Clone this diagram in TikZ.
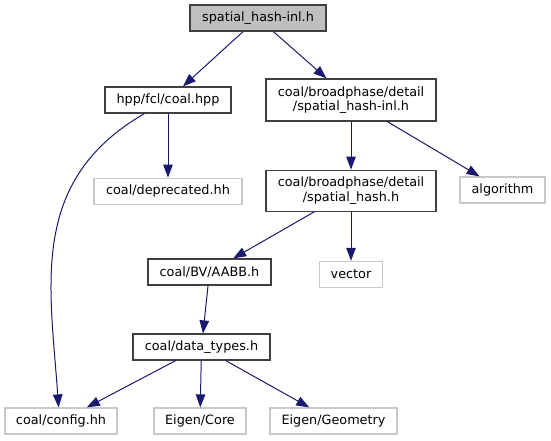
\documentclass[tikz,border=0pt]{standalone}
\usepackage{fontspec}
\setmainfont{DejaVu Sans}
\usetikzlibrary{positioning,arrows.meta}
\definecolor{IncEdge}{RGB}{25,25,112}
\definecolor{IncFrame}{RGB}{64,64,64}
\definecolor{IncRoot}{RGB}{191,191,191}
\definecolor{IncFaint}{RGB}{200,200,200}
\tikzset{
  inc box/.style={
    draw=IncFrame,
    line width=1.2pt,
    align=center,
    font=\fontsize{12.8}{14.5}\selectfont,
    inner sep=2pt,
    minimum height=26pt,
    text=black
  },
  inc root/.style={inc box, fill=IncRoot},
  inc file/.style={inc box, fill=white},
  inc tall/.style={inc file, minimum height=41pt},
  inc sys/.style={inc box, draw=IncFaint, fill=white},
  inc arrow/.style={-{Triangle[length=13pt,width=9.5pt]}, line width=1pt, IncEdge}
}

\begin{document}
\begin{tikzpicture}[x=1pt,y=-1pt]
\useasboundingbox (0,0) rectangle (551,440);
\node[inc root, minimum width=136pt] (root) at (258,18) {spatial\_hash-inl.h};
\node[inc file, minimum width=126pt] (hpp) at (168,100) {hpp/fcl/coal.hpp};
\node[inc file, minimum width=170pt, minimum height=42pt] (bpinl) at (351,100) {coal/broadphase/detail\\/spatial\_hash-inl.h};
\node[inc sys, below=64pt of hpp, minimum width=148pt] (depr) {coal/deprecated.hh};
\node[inc tall, below=48pt of bpinl, minimum width=170pt] (spash) {coal/broadphase/detail\\/spatial\_hash.h};
\node[inc sys, minimum width=85pt] (algo) at (502.5,190) {algorithm};
\node[inc file, minimum width=123pt] (aabb) at (209.5,272) {coal/BV/AABB.h};
\node[inc sys, below=49pt of spash, minimum width=63pt] (vec) {vector};
\node[inc file, minimum width=137pt] (dtypes) at (201.5,347) {coal/data\_types.h};
\node[inc sys, minimum width=112pt] (config) at (61,421) {coal/config.hh};
\node[inc sys, minimum width=92pt] (ecore) at (200,421) {Eigen/Core};
\node[inc sys, minimum width=127pt] (egeom) at (333.5,421) {Eigen/Geometry};

\draw[inc arrow] (root) -- (hpp);
\draw[inc arrow] (root) -- (bpinl);
\draw[inc arrow] (hpp) -- (depr);
\draw[inc arrow] (hpp.-150) to[out=210, in=94, out distance=134pt, in distance=123pt] (config.100);
\draw[inc arrow] (bpinl) -- (spash);
\draw[inc arrow] (bpinl) -- (algo);
\draw[inc arrow] (spash) -- (aabb);
\draw[inc arrow] (spash) -- (vec);
\draw[inc arrow] (aabb) -- (dtypes);
\draw[inc arrow] (dtypes) -- (config);
\draw[inc arrow] (dtypes) -- (ecore);
\draw[inc arrow] (dtypes) -- (egeom);
\end{tikzpicture}
\end{document}
